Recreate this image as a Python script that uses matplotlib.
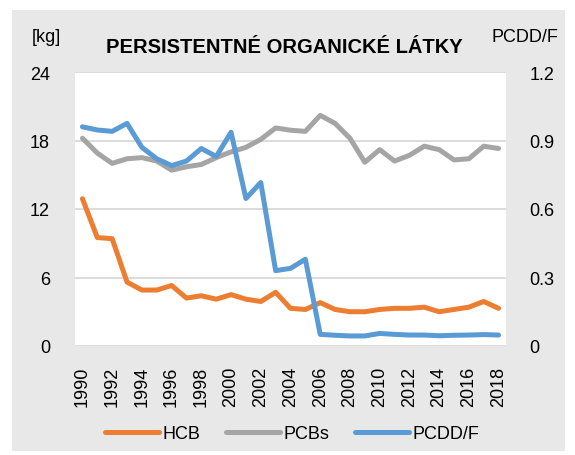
import matplotlib
matplotlib.use("Agg")
import matplotlib.pyplot as plt
from matplotlib.patches import Rectangle
from matplotlib.lines import Line2D

plt.rcParams['font.family'] = ['Liberation Sans', 'DejaVu Sans']

# data
years = list(range(1990, 2019))
hcb = [12.9, 9.5, 9.4, 5.6, 4.9, 4.9, 5.3, 4.2, 4.4, 4.1, 4.5, 4.1, 3.9, 4.7, 3.3,
       3.2, 3.8, 3.2, 3.0, 3.0, 3.2, 3.3, 3.3, 3.4, 3.0, 3.2, 3.4, 3.9, 3.3]
pcbs = [18.2, 16.9, 16.0, 16.4, 16.5, 16.2, 15.4, 15.7, 15.9, 16.5, 17.0, 17.4, 18.1, 19.1, 18.9,
        18.8, 20.2, 19.5, 18.2, 16.1, 17.2, 16.2, 16.7, 17.5, 17.2, 16.3, 16.4, 17.5, 17.3]
pcddf = [0.96, 0.946, 0.94, 0.975, 0.87, 0.82, 0.79, 0.81, 0.865, 0.83, 0.936, 0.646, 0.716, 0.33, 0.34,
         0.38, 0.051, 0.047, 0.044, 0.044, 0.055, 0.051, 0.048, 0.048, 0.045, 0.047, 0.048, 0.05, 0.048]

c_hcb = '#ED7D31'
c_pcb = '#A5A5A5'
c_pcd = '#5B9BD5'
grid_c = '#D9D9D9'
bg = '#E8E8E8'

fig = plt.figure(figsize=(5.75, 4.56), dpi=100)
fig.patches.append(Rectangle((12/575, 1-452/456), 553/575, 441/456, transform=fig.transFigure,
                             facecolor=bg, edgecolor='none', zorder=-10))

ax = fig.add_axes([75/575, 1-347/456, 431/575, 274/456])
ax2 = ax.twinx()
ax.set_facecolor('white')

ax.set_xlim(1989.5, 2018.5)
ax.set_ylim(0, 24)
ax2.set_ylim(0, 1.2)
ax.set_yticks([0, 6, 12, 18, 24])
ax2.set_yticks([0, 0.3, 0.6, 0.9, 1.2])
ax2.set_yticklabels(['0', '0.3', '0.6', '0.9', '1.2'])
ax.set_xticks(years[::2])
ax.set_xticklabels([str(y) for y in years[::2]], rotation=90)

for a in (ax, ax2):
    for s in a.spines.values():
        s.set_visible(False)
    a.tick_params(length=0, labelsize=13, colors='black')
ax.tick_params(axis='y', pad=18)
ax2.tick_params(axis='y', pad=17)
ax.tick_params(axis='x', pad=14)

for v in [6, 12, 18, 24]:
    ax.axhline(v, color=grid_c, lw=1.3, zorder=0)
ax.axhline(0, color=grid_c, lw=2, zorder=0)

ax.plot(years, hcb, color=c_hcb, lw=3.6, solid_capstyle='round', solid_joinstyle='round', zorder=3)
ax.plot(years, pcbs, color=c_pcb, lw=3.6, solid_capstyle='round', solid_joinstyle='round', zorder=3)
ax2.plot(years, pcddf, color=c_pcd, lw=3.6, solid_capstyle='round', solid_joinstyle='round', zorder=3)

fig.text(284/575, 1-53/456, 'PERSISTENTNÉ ORGANICKÉ LÁTKY', ha='center', va='baseline',
         fontsize=14.5, fontweight='bold')
fig.text(46/575, 1-38/456, '[kg]', ha='center', va='center', fontsize=13)
fig.text(525/575, 1-38/456, 'PCDD/F', ha='center', va='center', fontsize=13)

handles = [Line2D([], [], color=c, lw=3.6, solid_capstyle='round') for c in (c_hcb, c_pcb, c_pcd)]
fig.legend(handles, ['HCB', 'PCBs', 'PCDD/F'], loc='center', bbox_to_anchor=(292/575, 1-435/456),
           ncol=3, frameon=False, fontsize=13, handlelength=3.0, handletextpad=0.2, columnspacing=1.4,
           borderpad=0, borderaxespad=0)

fig.savefig('out.png', dpi=100)
